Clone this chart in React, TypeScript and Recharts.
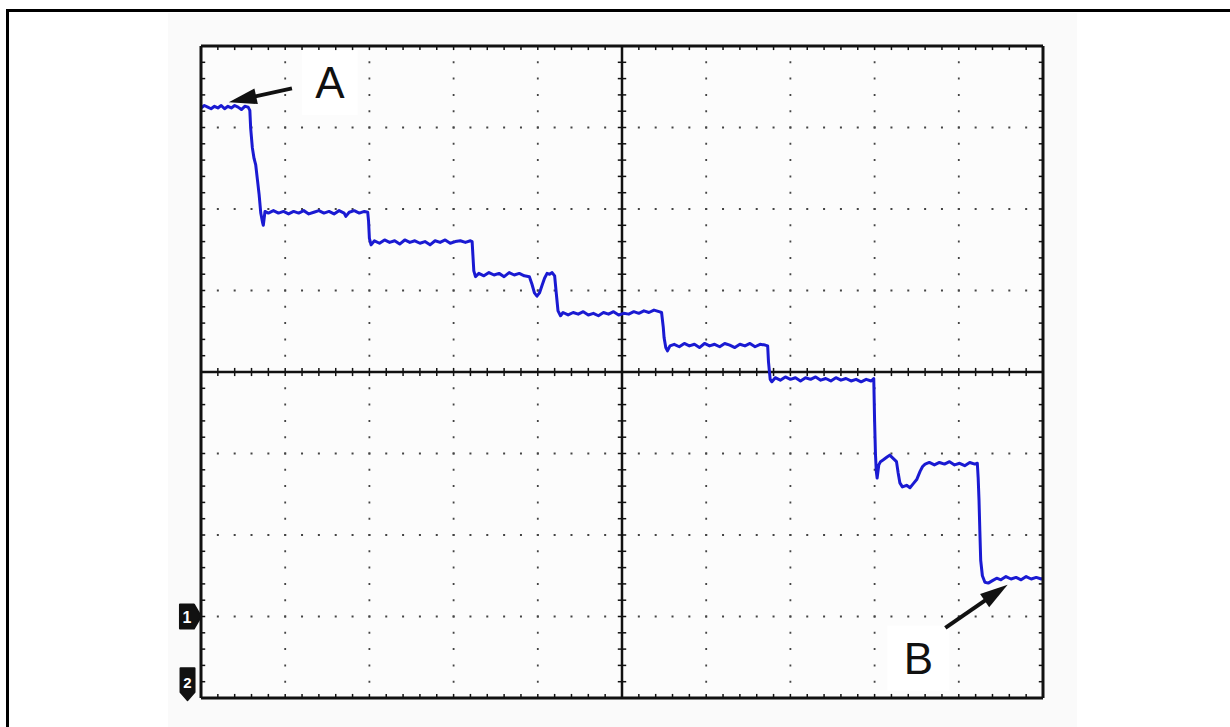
import React from 'react'
import { LineChart, Line, XAxis, YAxis, ReferenceLine, ReferenceArea, ReferenceDot } from 'recharts'

// scope trace, in screen divisions: time 0..10, level 0..8 (bottom edge = 0)
const timeDiv = [
  0, 0.04, 0.08, 0.12, 0.16, 0.2, 0.24, 0.28, 0.32, 0.36, 0.4, 0.44, 0.48, 0.52, 0.56,
  0.58, 0.59, 0.61, 0.63, 0.65, 0.67, 0.69, 0.71, 0.73, 0.74, 0.76,
  0.8, 0.86, 0.92, 0.98, 1.04, 1.1, 1.16, 1.22, 1.28, 1.34, 1.4, 1.46, 1.52, 1.58, 1.64, 1.7, 1.72, 1.76, 1.82, 1.88, 1.94, 1.98,
  1.99, 2.0, 2.02,
  2.06, 2.12, 2.18, 2.24, 2.3, 2.36, 2.42, 2.48, 2.54, 2.6, 2.66, 2.72, 2.78, 2.84, 2.9, 2.96, 3.02, 3.08, 3.14, 3.2, 3.22,
  3.23, 3.24, 3.26,
  3.3, 3.36, 3.42, 3.48, 3.54, 3.6, 3.66, 3.72, 3.78, 3.84, 3.9,
  3.93, 3.96, 3.99, 4.02, 4.05, 4.08, 4.11, 4.14, 4.17, 4.2,
  4.22, 4.24, 4.27,
  4.3, 4.36, 4.42, 4.48, 4.54, 4.6, 4.66, 4.72, 4.78, 4.84, 4.9, 4.96, 5.02, 5.08, 5.14, 5.2, 5.26, 5.32, 5.38, 5.44, 5.47,
  5.49, 5.5, 5.52, 5.54, 5.57,
  5.62, 5.68, 5.74, 5.8, 5.86, 5.92, 5.98, 6.04, 6.1, 6.16, 6.22, 6.28, 6.34, 6.4, 6.46, 6.52, 6.58, 6.64, 6.7, 6.73,
  6.74, 6.76, 6.78,
  6.82, 6.88, 6.94, 7.0, 7.06, 7.12, 7.18, 7.24, 7.3, 7.36, 7.42, 7.48, 7.54, 7.6, 7.66, 7.72, 7.78, 7.84, 7.9, 7.96, 7.99,
  8.0, 8.01, 8.02, 8.03, 8.05, 8.07, 8.1, 8.14, 8.18, 8.22, 8.26, 8.28, 8.3, 8.33, 8.38, 8.42, 8.46, 8.5, 8.54, 8.57, 8.6,
  8.65, 8.71, 8.77, 8.83, 8.89, 8.95, 9.01, 9.07, 9.13, 9.19, 9.22,
  9.23, 9.24, 9.25, 9.26, 9.28, 9.31, 9.35, 9.4, 9.45,
  9.5, 9.56, 9.62, 9.68, 9.74, 9.8, 9.86, 9.92, 9.98, 10,
]

const levelDiv = [
  7.24, 7.27, 7.25, 7.23, 7.26, 7.24, 7.27, 7.23, 7.26, 7.24, 7.27, 7.25, 7.22, 7.26, 7.25,
  7.21, 6.99, 6.75, 6.62, 6.54, 6.36, 6.18, 5.95, 5.84, 5.8, 5.97,
  5.95, 5.98, 5.95, 5.97, 5.94, 5.97, 5.95, 5.98, 5.94, 5.96, 5.98, 5.95, 5.97, 5.94, 5.98, 5.95, 5.91, 5.96, 5.98, 5.95, 5.97, 5.96,
  5.85, 5.64, 5.56,
  5.61, 5.58, 5.62, 5.59, 5.61, 5.57, 5.62, 5.59, 5.61, 5.58, 5.6, 5.56, 5.61, 5.59, 5.62, 5.58, 5.6, 5.61, 5.59, 5.61, 5.6,
  5.42, 5.24, 5.17,
  5.21, 5.18, 5.22, 5.19, 5.21, 5.17, 5.22, 5.19, 5.21, 5.18, 5.17,
  5.08, 4.97, 4.93, 4.97, 5.06, 5.15, 5.21, 5.2, 5.22, 5.18,
  4.96, 4.75, 4.69,
  4.73, 4.7, 4.73, 4.71, 4.74, 4.7, 4.72, 4.69, 4.73, 4.71, 4.74, 4.7, 4.72, 4.71, 4.74, 4.72, 4.75, 4.73, 4.76, 4.74, 4.73,
  4.55, 4.42, 4.3, 4.26, 4.32,
  4.34, 4.31, 4.35, 4.32, 4.34, 4.3, 4.35, 4.32, 4.34, 4.31, 4.35, 4.33, 4.3, 4.34, 4.32, 4.35, 4.31, 4.34, 4.33, 4.32,
  4.12, 3.91, 3.88,
  3.93, 3.9, 3.94, 3.91, 3.93, 3.89, 3.93, 3.91, 3.94, 3.9, 3.92, 3.89, 3.93, 3.9, 3.92, 3.89, 3.91, 3.88, 3.91, 3.89, 3.92,
  3.4, 3.0, 2.78, 2.7, 2.86, 2.9, 2.92, 2.95, 2.98, 2.94, 2.9, 2.76, 2.64, 2.59, 2.61, 2.58, 2.63, 2.68, 2.78, 2.84, 2.87,
  2.89, 2.86, 2.89, 2.87, 2.9, 2.86, 2.88, 2.85, 2.89, 2.87, 2.88,
  2.7, 2.43, 2.05, 1.69, 1.5, 1.42, 1.41, 1.44, 1.47,
  1.45, 1.49, 1.46, 1.48, 1.45, 1.49, 1.46, 1.48, 1.46, 1.47,
]

const gridX = [1, 2, 3, 4, 6, 7, 8, 9]
const gridY = [1, 2, 3, 5, 6, 7]
const minorX = Array.from({ length: 49 }, (_, i) => +((i + 1) * 0.2).toFixed(1))
const minorY = Array.from({ length: 39 }, (_, i) => +((i + 1) * 0.2).toFixed(1))

const data = timeDiv.map((t, i) => ({ t, v: levelDiv[i] }))

const INK = '#111'
const TRACE = '#1a1ad2'
const FONT = '"Liberation Sans", Arial, sans-serif'

// tick lengths in divisions (~4px)
const TX = 0.05
const TY = 0.05

const arrowShape = (p: any) => {
  const { x1, y1, x2, y2 } = p
  const dx = x2 - x1
  const dy = y2 - y1
  const len = Math.hypot(dx, dy) || 1
  const ux = dx / len
  const uy = dy / len
  const head = 28
  const half = 8
  const bx = x2 - ux * head
  const by = y2 - uy * head
  return (
    <g>
      <line x1={x1} y1={y1} x2={bx + ux * 2} y2={by + uy * 2} stroke={INK} strokeWidth={4} />
      <polygon
        points={`${x2},${y2} ${bx - uy * half},${by + ux * half} ${bx + uy * half},${by - ux * half}`}
        fill={INK}
      />
    </g>
  )
}

const marker1 = (p: any) => {
  const { cx, cy } = p
  return (
    <g>
      <path
        d={`M${cx - 9},${cy - 12} L${cx + 5},${cy - 12} L${cx + 12},${cy} L${cx + 5},${cy + 12} L${cx - 9},${cy + 12} Z`}
        fill={INK}
        stroke={INK}
        strokeLinejoin="round"
        strokeWidth={2}
      />
      <text x={cx - 2} y={cy + 6} fill="#fff" fontSize={16} fontWeight="bold" textAnchor="middle" fontFamily={FONT}>
        1
      </text>
    </g>
  )
}

const marker2 = (p: any) => {
  const { cx, cy } = p
  return (
    <g>
      <path
        d={`M${cx - 7},${cy - 16} L${cx + 7},${cy - 16} L${cx + 7},${cy + 8} L${cx},${cy + 16} L${cx - 7},${cy + 8} Z`}
        fill={INK}
        stroke={INK}
        strokeLinejoin="round"
        strokeWidth={2}
      />
      <text x={cx} y={cy + 4} fill="#fff" fontSize={15} fontWeight="bold" textAnchor="middle" fontFamily={FONT}>
        2
      </text>
    </g>
  )
}

export default function App() {
  return (
    <div style={{ position: 'absolute', left: 0, top: 0, width: 1230, height: 727, overflow: 'hidden', background: '#fff' }}>
      <div style={{ position: 'absolute', left: 168, top: 13, width: 909, height: 714, background: '#fafafa' }} />
      <div
        style={{
          position: 'absolute',
          left: 6,
          top: 9,
          width: 1300,
          height: 800,
          borderLeft: '3px solid #000',
          borderTop: '3px solid #000',
        }}
      />
      <div style={{ position: 'absolute', left: 0, top: 0 }}>
        <LineChart width={1230} height={727} data={data} margin={{ top: 46, right: 187, bottom: 29, left: 201 }}>
          <XAxis type="number" dataKey="t" domain={[0, 10]} hide />
          <YAxis type="number" domain={[0, 8]} hide />
          <ReferenceArea x1={0} x2={10} y1={0} y2={8} fill="#fcfcfc" fillOpacity={1} stroke="none" />

          {gridX.map((g) => (
            <ReferenceLine key={'gx' + g} x={g} stroke="#444" strokeWidth={1.8} strokeDasharray="2 14.3" strokeDashoffset={1} />
          ))}
          {gridY.map((g) => (
            <ReferenceLine key={'gy' + g} y={g} stroke="#444" strokeWidth={1.8} strokeDasharray="2 14.84" strokeDashoffset={1} />
          ))}

          <ReferenceArea x1={1.2} x2={1.86} y1={7.15} y2={7.95} fill="#fff" fillOpacity={0.85} stroke="none" />
          <ReferenceArea x1={8.15} x2={8.89} y1={0.09} y2={0.89} fill="#fff" fillOpacity={0.85} stroke="none" />

          <ReferenceLine x={5} stroke={INK} strokeWidth={2.5} />
          <ReferenceLine y={4} stroke={INK} strokeWidth={2.5} />

          {minorX.map((m) => (
            <ReferenceLine key={'cx' + m} segment={[{ x: m, y: 4 - TY }, { x: m, y: 4 + TY }]} stroke={INK} strokeWidth={1.5} />
          ))}
          {minorY.map((m) => (
            <ReferenceLine key={'cy' + m} segment={[{ x: 5 - TX, y: m }, { x: 5 + TX, y: m }]} stroke={INK} strokeWidth={1.5} />
          ))}
          {minorX.map((m) => (
            <ReferenceLine key={'tx' + m} segment={[{ x: m, y: 8 }, { x: m, y: 8 - TY }]} stroke={INK} strokeWidth={1.5} />
          ))}
          {minorX.map((m) => (
            <ReferenceLine key={'bx' + m} segment={[{ x: m, y: 0 }, { x: m, y: TY }]} stroke={INK} strokeWidth={1.5} />
          ))}
          {minorY.map((m) => (
            <ReferenceLine key={'ly' + m} segment={[{ x: 0, y: m }, { x: TX, y: m }]} stroke={INK} strokeWidth={1.5} />
          ))}
          {minorY.map((m) => (
            <ReferenceLine key={'ry' + m} segment={[{ x: 10, y: m }, { x: 10 - TX, y: m }]} stroke={INK} strokeWidth={1.5} />
          ))}

          <Line
            type="linear"
            dataKey="v"
            stroke={TRACE}
            strokeWidth={3}
            dot={false}
            strokeLinejoin="round"
            isAnimationActive={false}
          />

          <ReferenceLine x={0} stroke={INK} strokeWidth={3} />
          <ReferenceLine x={10} stroke={INK} strokeWidth={3} />
          <ReferenceLine y={0} stroke={INK} strokeWidth={3} />
          <ReferenceLine y={8} stroke={INK} strokeWidth={3} />

          <ReferenceArea
            x1={1.2}
            x2={1.86}
            y1={7.15}
            y2={7.95}
            fill="none"
            stroke="none"
            label={{ value: 'A', position: 'center', fontSize: 44, fill: INK, fontFamily: FONT }}
          />
          <ReferenceArea
            x1={8.15}
            x2={8.89}
            y1={0.09}
            y2={0.89}
            fill="none"
            stroke="none"
            label={{ value: 'B', position: 'center', fontSize: 44, fill: INK, fontFamily: FONT }}
          />

          <ReferenceLine segment={[{ x: 1.08, y: 7.48 }, { x: 0.33, y: 7.31 }]} shape={arrowShape} />
          <ReferenceLine segment={[{ x: 8.84, y: 0.86 }, { x: 9.58, y: 1.39 }]} shape={arrowShape} />

          <ReferenceDot x={-0.143} y={1} r={0} ifOverflow="visible" shape={marker1} />
          <ReferenceDot x={-0.16} y={0.17} r={0} ifOverflow="visible" shape={marker2} />
        </LineChart>
      </div>
    </div>
  )
}
